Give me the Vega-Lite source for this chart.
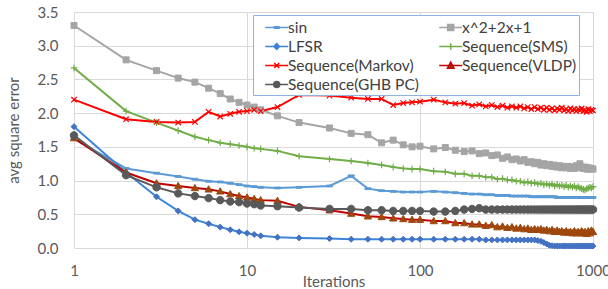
{
"$schema":"https://vega.github.io/schema/vega-lite/v6.json",
"width":519,"height":236,
"autosize":{"type":"none"},
"padding":{"left":74,"top":12,"right":15,"bottom":41},
"background":"white",
"config":{"view":{"stroke":null},"font":"Lato","axis":{"labelFont":"Lato","titleFont":"Lato","labelFontSize":15,"titleFontSize":15,"labelColor":"#595959","titleColor":"#595959","titleFontWeight":"normal","gridColor":"#D9D9D9","gridWidth":1,"domain":false,"ticks":false}},
"data":{"values":[
{"s":"sin","x":1,"y":1.62},{"s":"sin","x":2,"y":1.18},{"s":"sin","x":3,"y":1.11},{"s":"sin","x":4,"y":1.06},{"s":"sin","x":5,"y":1.02},{"s":"sin","x":6,"y":0.99},{"s":"sin","x":7,"y":0.98},{"s":"sin","x":8,"y":0.96},{"s":"sin","x":9,"y":0.94},{"s":"sin","x":10,"y":0.92},{"s":"sin","x":11,"y":0.91},{"s":"sin","x":12,"y":0.90},{"s":"sin","x":15,"y":0.89},{"s":"sin","x":20,"y":0.90},{"s":"sin","x":30,"y":0.92},{"s":"sin","x":40,"y":1.07},{"s":"sin","x":50,"y":0.88},{"s":"sin","x":60,"y":0.85},{"s":"sin","x":70,"y":0.84},{"s":"sin","x":80,"y":0.83},{"s":"sin","x":90,"y":0.83},{"s":"sin","x":100,"y":0.83},{"s":"sin","x":120,"y":0.84},{"s":"sin","x":140,"y":0.83},{"s":"sin","x":160,"y":0.82},{"s":"sin","x":180,"y":0.81},{"s":"sin","x":200,"y":0.80},{"s":"sin","x":220,"y":0.80},{"s":"sin","x":240,"y":0.79},{"s":"sin","x":260,"y":0.79},{"s":"sin","x":280,"y":0.78},{"s":"sin","x":300,"y":0.78},{"s":"sin","x":320,"y":0.78},{"s":"sin","x":340,"y":0.77},{"s":"sin","x":360,"y":0.77},{"s":"sin","x":380,"y":0.77},{"s":"sin","x":400,"y":0.77},{"s":"sin","x":420,"y":0.77},{"s":"sin","x":440,"y":0.76},{"s":"sin","x":460,"y":0.76},{"s":"sin","x":480,"y":0.76},{"s":"sin","x":500,"y":0.76},{"s":"sin","x":520,"y":0.76},{"s":"sin","x":540,"y":0.76},{"s":"sin","x":560,"y":0.76},{"s":"sin","x":580,"y":0.76},{"s":"sin","x":600,"y":0.76},{"s":"sin","x":620,"y":0.75},{"s":"sin","x":640,"y":0.75},{"s":"sin","x":660,"y":0.75},{"s":"sin","x":680,"y":0.75},{"s":"sin","x":700,"y":0.75},{"s":"sin","x":720,"y":0.75},{"s":"sin","x":740,"y":0.75},{"s":"sin","x":760,"y":0.75},{"s":"sin","x":780,"y":0.75},{"s":"sin","x":800,"y":0.75},{"s":"sin","x":820,"y":0.75},{"s":"sin","x":840,"y":0.75},{"s":"sin","x":860,"y":0.75},{"s":"sin","x":880,"y":0.75},{"s":"sin","x":900,"y":0.75},{"s":"sin","x":920,"y":0.75},{"s":"sin","x":940,"y":0.75},{"s":"sin","x":960,"y":0.75},{"s":"sin","x":980,"y":0.75},{"s":"sin","x":1000,"y":0.75},
{"s":"x^2+2x+1","x":1,"y":3.30},{"s":"x^2+2x+1","x":2,"y":2.79},{"s":"x^2+2x+1","x":3,"y":2.63},{"s":"x^2+2x+1","x":4,"y":2.52},{"s":"x^2+2x+1","x":5,"y":2.46},{"s":"x^2+2x+1","x":6,"y":2.37},{"s":"x^2+2x+1","x":7,"y":2.29},{"s":"x^2+2x+1","x":8,"y":2.21},{"s":"x^2+2x+1","x":9,"y":2.16},{"s":"x^2+2x+1","x":10,"y":2.12},{"s":"x^2+2x+1","x":11,"y":2.09},{"s":"x^2+2x+1","x":12,"y":2.05},{"s":"x^2+2x+1","x":15,"y":1.96},{"s":"x^2+2x+1","x":20,"y":1.86},{"s":"x^2+2x+1","x":30,"y":1.78},{"s":"x^2+2x+1","x":40,"y":1.70},{"s":"x^2+2x+1","x":50,"y":1.68},{"s":"x^2+2x+1","x":60,"y":1.56},{"s":"x^2+2x+1","x":70,"y":1.60},{"s":"x^2+2x+1","x":80,"y":1.53},{"s":"x^2+2x+1","x":90,"y":1.50},{"s":"x^2+2x+1","x":100,"y":1.51},{"s":"x^2+2x+1","x":120,"y":1.47},{"s":"x^2+2x+1","x":140,"y":1.49},{"s":"x^2+2x+1","x":160,"y":1.45},{"s":"x^2+2x+1","x":180,"y":1.43},{"s":"x^2+2x+1","x":200,"y":1.44},{"s":"x^2+2x+1","x":220,"y":1.40},{"s":"x^2+2x+1","x":240,"y":1.41},{"s":"x^2+2x+1","x":260,"y":1.37},{"s":"x^2+2x+1","x":280,"y":1.38},{"s":"x^2+2x+1","x":300,"y":1.33},{"s":"x^2+2x+1","x":320,"y":1.35},{"s":"x^2+2x+1","x":340,"y":1.31},{"s":"x^2+2x+1","x":360,"y":1.32},{"s":"x^2+2x+1","x":380,"y":1.29},{"s":"x^2+2x+1","x":400,"y":1.31},{"s":"x^2+2x+1","x":420,"y":1.27},{"s":"x^2+2x+1","x":440,"y":1.28},{"s":"x^2+2x+1","x":460,"y":1.25},{"s":"x^2+2x+1","x":480,"y":1.27},{"s":"x^2+2x+1","x":500,"y":1.23},{"s":"x^2+2x+1","x":520,"y":1.25},{"s":"x^2+2x+1","x":540,"y":1.22},{"s":"x^2+2x+1","x":560,"y":1.24},{"s":"x^2+2x+1","x":580,"y":1.21},{"s":"x^2+2x+1","x":600,"y":1.23},{"s":"x^2+2x+1","x":620,"y":1.20},{"s":"x^2+2x+1","x":640,"y":1.22},{"s":"x^2+2x+1","x":660,"y":1.19},{"s":"x^2+2x+1","x":680,"y":1.21},{"s":"x^2+2x+1","x":700,"y":1.19},{"s":"x^2+2x+1","x":720,"y":1.21},{"s":"x^2+2x+1","x":740,"y":1.18},{"s":"x^2+2x+1","x":760,"y":1.20},{"s":"x^2+2x+1","x":780,"y":1.18},{"s":"x^2+2x+1","x":800,"y":1.22},{"s":"x^2+2x+1","x":820,"y":1.19},{"s":"x^2+2x+1","x":840,"y":1.25},{"s":"x^2+2x+1","x":860,"y":1.20},{"s":"x^2+2x+1","x":880,"y":1.18},{"s":"x^2+2x+1","x":900,"y":1.20},{"s":"x^2+2x+1","x":920,"y":1.17},{"s":"x^2+2x+1","x":940,"y":1.19},{"s":"x^2+2x+1","x":960,"y":1.17},{"s":"x^2+2x+1","x":980,"y":1.18},{"s":"x^2+2x+1","x":1000,"y":1.17},
{"s":"LFSR","x":1,"y":1.80},{"s":"LFSR","x":2,"y":1.12},{"s":"LFSR","x":3,"y":0.76},{"s":"LFSR","x":4,"y":0.55},{"s":"LFSR","x":5,"y":0.42},{"s":"LFSR","x":6,"y":0.36},{"s":"LFSR","x":7,"y":0.31},{"s":"LFSR","x":8,"y":0.27},{"s":"LFSR","x":9,"y":0.24},{"s":"LFSR","x":10,"y":0.22},{"s":"LFSR","x":11,"y":0.20},{"s":"LFSR","x":12,"y":0.18},{"s":"LFSR","x":15,"y":0.16},{"s":"LFSR","x":20,"y":0.15},{"s":"LFSR","x":30,"y":0.14},{"s":"LFSR","x":40,"y":0.13},{"s":"LFSR","x":50,"y":0.13},{"s":"LFSR","x":60,"y":0.13},{"s":"LFSR","x":70,"y":0.13},{"s":"LFSR","x":80,"y":0.13},{"s":"LFSR","x":90,"y":0.13},{"s":"LFSR","x":100,"y":0.13},{"s":"LFSR","x":120,"y":0.13},{"s":"LFSR","x":140,"y":0.13},{"s":"LFSR","x":160,"y":0.13},{"s":"LFSR","x":180,"y":0.13},{"s":"LFSR","x":200,"y":0.13},{"s":"LFSR","x":220,"y":0.13},{"s":"LFSR","x":240,"y":0.12},{"s":"LFSR","x":260,"y":0.12},{"s":"LFSR","x":280,"y":0.12},{"s":"LFSR","x":300,"y":0.12},{"s":"LFSR","x":320,"y":0.12},{"s":"LFSR","x":340,"y":0.12},{"s":"LFSR","x":360,"y":0.12},{"s":"LFSR","x":380,"y":0.12},{"s":"LFSR","x":400,"y":0.12},{"s":"LFSR","x":420,"y":0.12},{"s":"LFSR","x":440,"y":0.12},{"s":"LFSR","x":460,"y":0.12},{"s":"LFSR","x":480,"y":0.11},{"s":"LFSR","x":500,"y":0.10},{"s":"LFSR","x":520,"y":0.08},{"s":"LFSR","x":540,"y":0.06},{"s":"LFSR","x":560,"y":0.04},{"s":"LFSR","x":580,"y":0.035},{"s":"LFSR","x":600,"y":0.03},{"s":"LFSR","x":620,"y":0.03},{"s":"LFSR","x":640,"y":0.03},{"s":"LFSR","x":660,"y":0.03},{"s":"LFSR","x":680,"y":0.03},{"s":"LFSR","x":700,"y":0.03},{"s":"LFSR","x":720,"y":0.03},{"s":"LFSR","x":740,"y":0.03},{"s":"LFSR","x":760,"y":0.03},{"s":"LFSR","x":780,"y":0.03},{"s":"LFSR","x":800,"y":0.03},{"s":"LFSR","x":820,"y":0.03},{"s":"LFSR","x":840,"y":0.03},{"s":"LFSR","x":860,"y":0.03},{"s":"LFSR","x":880,"y":0.03},{"s":"LFSR","x":900,"y":0.03},{"s":"LFSR","x":920,"y":0.03},{"s":"LFSR","x":940,"y":0.03},{"s":"LFSR","x":960,"y":0.03},{"s":"LFSR","x":980,"y":0.03},{"s":"LFSR","x":1000,"y":0.03},
{"s":"Sequence(SMS)","x":1,"y":2.67},{"s":"Sequence(SMS)","x":2,"y":2.03},{"s":"Sequence(SMS)","x":3,"y":1.86},{"s":"Sequence(SMS)","x":4,"y":1.74},{"s":"Sequence(SMS)","x":5,"y":1.65},{"s":"Sequence(SMS)","x":6,"y":1.60},{"s":"Sequence(SMS)","x":7,"y":1.56},{"s":"Sequence(SMS)","x":8,"y":1.54},{"s":"Sequence(SMS)","x":9,"y":1.52},{"s":"Sequence(SMS)","x":10,"y":1.50},{"s":"Sequence(SMS)","x":11,"y":1.48},{"s":"Sequence(SMS)","x":12,"y":1.47},{"s":"Sequence(SMS)","x":15,"y":1.44},{"s":"Sequence(SMS)","x":20,"y":1.36},{"s":"Sequence(SMS)","x":30,"y":1.32},{"s":"Sequence(SMS)","x":40,"y":1.29},{"s":"Sequence(SMS)","x":50,"y":1.26},{"s":"Sequence(SMS)","x":60,"y":1.23},{"s":"Sequence(SMS)","x":70,"y":1.20},{"s":"Sequence(SMS)","x":80,"y":1.18},{"s":"Sequence(SMS)","x":90,"y":1.17},{"s":"Sequence(SMS)","x":100,"y":1.17},{"s":"Sequence(SMS)","x":120,"y":1.14},{"s":"Sequence(SMS)","x":140,"y":1.13},{"s":"Sequence(SMS)","x":160,"y":1.10},{"s":"Sequence(SMS)","x":180,"y":1.10},{"s":"Sequence(SMS)","x":200,"y":1.07},{"s":"Sequence(SMS)","x":220,"y":1.07},{"s":"Sequence(SMS)","x":240,"y":1.05},{"s":"Sequence(SMS)","x":260,"y":1.05},{"s":"Sequence(SMS)","x":280,"y":1.02},{"s":"Sequence(SMS)","x":300,"y":1.03},{"s":"Sequence(SMS)","x":320,"y":1.01},{"s":"Sequence(SMS)","x":340,"y":1.01},{"s":"Sequence(SMS)","x":360,"y":0.99},{"s":"Sequence(SMS)","x":380,"y":0.99},{"s":"Sequence(SMS)","x":400,"y":0.97},{"s":"Sequence(SMS)","x":420,"y":0.98},{"s":"Sequence(SMS)","x":440,"y":0.96},{"s":"Sequence(SMS)","x":460,"y":0.97},{"s":"Sequence(SMS)","x":480,"y":0.95},{"s":"Sequence(SMS)","x":500,"y":0.96},{"s":"Sequence(SMS)","x":520,"y":0.94},{"s":"Sequence(SMS)","x":540,"y":0.95},{"s":"Sequence(SMS)","x":560,"y":0.93},{"s":"Sequence(SMS)","x":580,"y":0.95},{"s":"Sequence(SMS)","x":600,"y":0.92},{"s":"Sequence(SMS)","x":620,"y":0.94},{"s":"Sequence(SMS)","x":640,"y":0.92},{"s":"Sequence(SMS)","x":660,"y":0.93},{"s":"Sequence(SMS)","x":680,"y":0.91},{"s":"Sequence(SMS)","x":700,"y":0.93},{"s":"Sequence(SMS)","x":720,"y":0.90},{"s":"Sequence(SMS)","x":740,"y":0.92},{"s":"Sequence(SMS)","x":760,"y":0.90},{"s":"Sequence(SMS)","x":780,"y":0.92},{"s":"Sequence(SMS)","x":800,"y":0.89},{"s":"Sequence(SMS)","x":820,"y":0.91},{"s":"Sequence(SMS)","x":840,"y":0.89},{"s":"Sequence(SMS)","x":860,"y":0.88},{"s":"Sequence(SMS)","x":880,"y":0.87},{"s":"Sequence(SMS)","x":900,"y":0.86},{"s":"Sequence(SMS)","x":920,"y":0.88},{"s":"Sequence(SMS)","x":940,"y":0.89},{"s":"Sequence(SMS)","x":960,"y":0.90},{"s":"Sequence(SMS)","x":980,"y":0.89},{"s":"Sequence(SMS)","x":1000,"y":0.91},
{"s":"Sequence(Markov)","x":1,"y":2.20},{"s":"Sequence(Markov)","x":2,"y":1.91},{"s":"Sequence(Markov)","x":3,"y":1.87},{"s":"Sequence(Markov)","x":4,"y":1.86},{"s":"Sequence(Markov)","x":5,"y":1.87},{"s":"Sequence(Markov)","x":6,"y":2.02},{"s":"Sequence(Markov)","x":7,"y":1.95},{"s":"Sequence(Markov)","x":8,"y":1.99},{"s":"Sequence(Markov)","x":9,"y":2.02},{"s":"Sequence(Markov)","x":10,"y":2.03},{"s":"Sequence(Markov)","x":11,"y":2.05},{"s":"Sequence(Markov)","x":12,"y":2.03},{"s":"Sequence(Markov)","x":15,"y":2.09},{"s":"Sequence(Markov)","x":20,"y":2.27},{"s":"Sequence(Markov)","x":30,"y":2.26},{"s":"Sequence(Markov)","x":40,"y":2.23},{"s":"Sequence(Markov)","x":50,"y":2.21},{"s":"Sequence(Markov)","x":60,"y":2.21},{"s":"Sequence(Markov)","x":70,"y":2.12},{"s":"Sequence(Markov)","x":80,"y":2.15},{"s":"Sequence(Markov)","x":90,"y":2.16},{"s":"Sequence(Markov)","x":100,"y":2.17},{"s":"Sequence(Markov)","x":120,"y":2.20},{"s":"Sequence(Markov)","x":140,"y":2.16},{"s":"Sequence(Markov)","x":160,"y":2.14},{"s":"Sequence(Markov)","x":180,"y":2.15},{"s":"Sequence(Markov)","x":200,"y":2.11},{"s":"Sequence(Markov)","x":220,"y":2.13},{"s":"Sequence(Markov)","x":240,"y":2.10},{"s":"Sequence(Markov)","x":260,"y":2.12},{"s":"Sequence(Markov)","x":280,"y":2.09},{"s":"Sequence(Markov)","x":300,"y":2.11},{"s":"Sequence(Markov)","x":320,"y":2.08},{"s":"Sequence(Markov)","x":340,"y":2.10},{"s":"Sequence(Markov)","x":360,"y":2.08},{"s":"Sequence(Markov)","x":380,"y":2.10},{"s":"Sequence(Markov)","x":400,"y":2.07},{"s":"Sequence(Markov)","x":420,"y":2.09},{"s":"Sequence(Markov)","x":440,"y":2.06},{"s":"Sequence(Markov)","x":460,"y":2.09},{"s":"Sequence(Markov)","x":480,"y":2.06},{"s":"Sequence(Markov)","x":500,"y":2.08},{"s":"Sequence(Markov)","x":520,"y":2.05},{"s":"Sequence(Markov)","x":540,"y":2.08},{"s":"Sequence(Markov)","x":560,"y":2.05},{"s":"Sequence(Markov)","x":580,"y":2.07},{"s":"Sequence(Markov)","x":600,"y":2.04},{"s":"Sequence(Markov)","x":620,"y":2.07},{"s":"Sequence(Markov)","x":640,"y":2.05},{"s":"Sequence(Markov)","x":660,"y":2.08},{"s":"Sequence(Markov)","x":680,"y":2.04},{"s":"Sequence(Markov)","x":700,"y":2.06},{"s":"Sequence(Markov)","x":720,"y":2.03},{"s":"Sequence(Markov)","x":740,"y":2.07},{"s":"Sequence(Markov)","x":760,"y":2.04},{"s":"Sequence(Markov)","x":780,"y":2.06},{"s":"Sequence(Markov)","x":800,"y":2.03},{"s":"Sequence(Markov)","x":820,"y":2.06},{"s":"Sequence(Markov)","x":840,"y":2.04},{"s":"Sequence(Markov)","x":860,"y":2.07},{"s":"Sequence(Markov)","x":880,"y":2.03},{"s":"Sequence(Markov)","x":900,"y":2.05},{"s":"Sequence(Markov)","x":920,"y":2.02},{"s":"Sequence(Markov)","x":940,"y":2.06},{"s":"Sequence(Markov)","x":960,"y":2.03},{"s":"Sequence(Markov)","x":980,"y":2.05},{"s":"Sequence(Markov)","x":1000,"y":2.04},
{"s":"Sequence(VLDP)","x":1,"y":1.63},{"s":"Sequence(VLDP)","x":2,"y":1.12},{"s":"Sequence(VLDP)","x":3,"y":0.96},{"s":"Sequence(VLDP)","x":4,"y":0.92},{"s":"Sequence(VLDP)","x":5,"y":0.89},{"s":"Sequence(VLDP)","x":6,"y":0.87},{"s":"Sequence(VLDP)","x":7,"y":0.84},{"s":"Sequence(VLDP)","x":8,"y":0.80},{"s":"Sequence(VLDP)","x":9,"y":0.77},{"s":"Sequence(VLDP)","x":10,"y":0.75},{"s":"Sequence(VLDP)","x":11,"y":0.73},{"s":"Sequence(VLDP)","x":12,"y":0.71},{"s":"Sequence(VLDP)","x":15,"y":0.70},{"s":"Sequence(VLDP)","x":20,"y":0.61},{"s":"Sequence(VLDP)","x":30,"y":0.56},{"s":"Sequence(VLDP)","x":40,"y":0.51},{"s":"Sequence(VLDP)","x":50,"y":0.47},{"s":"Sequence(VLDP)","x":60,"y":0.46},{"s":"Sequence(VLDP)","x":70,"y":0.44},{"s":"Sequence(VLDP)","x":80,"y":0.43},{"s":"Sequence(VLDP)","x":90,"y":0.42},{"s":"Sequence(VLDP)","x":100,"y":0.42},{"s":"Sequence(VLDP)","x":120,"y":0.40},{"s":"Sequence(VLDP)","x":140,"y":0.40},{"s":"Sequence(VLDP)","x":160,"y":0.37},{"s":"Sequence(VLDP)","x":180,"y":0.37},{"s":"Sequence(VLDP)","x":200,"y":0.35},{"s":"Sequence(VLDP)","x":220,"y":0.35},{"s":"Sequence(VLDP)","x":240,"y":0.33},{"s":"Sequence(VLDP)","x":260,"y":0.34},{"s":"Sequence(VLDP)","x":280,"y":0.31},{"s":"Sequence(VLDP)","x":300,"y":0.32},{"s":"Sequence(VLDP)","x":320,"y":0.30},{"s":"Sequence(VLDP)","x":340,"y":0.31},{"s":"Sequence(VLDP)","x":360,"y":0.29},{"s":"Sequence(VLDP)","x":380,"y":0.30},{"s":"Sequence(VLDP)","x":400,"y":0.28},{"s":"Sequence(VLDP)","x":420,"y":0.29},{"s":"Sequence(VLDP)","x":440,"y":0.27},{"s":"Sequence(VLDP)","x":460,"y":0.28},{"s":"Sequence(VLDP)","x":480,"y":0.27},{"s":"Sequence(VLDP)","x":500,"y":0.28},{"s":"Sequence(VLDP)","x":520,"y":0.26},{"s":"Sequence(VLDP)","x":540,"y":0.27},{"s":"Sequence(VLDP)","x":560,"y":0.25},{"s":"Sequence(VLDP)","x":580,"y":0.27},{"s":"Sequence(VLDP)","x":600,"y":0.24},{"s":"Sequence(VLDP)","x":620,"y":0.26},{"s":"Sequence(VLDP)","x":640,"y":0.24},{"s":"Sequence(VLDP)","x":660,"y":0.25},{"s":"Sequence(VLDP)","x":680,"y":0.23},{"s":"Sequence(VLDP)","x":700,"y":0.25},{"s":"Sequence(VLDP)","x":720,"y":0.23},{"s":"Sequence(VLDP)","x":740,"y":0.24},{"s":"Sequence(VLDP)","x":760,"y":0.22},{"s":"Sequence(VLDP)","x":780,"y":0.25},{"s":"Sequence(VLDP)","x":800,"y":0.22},{"s":"Sequence(VLDP)","x":820,"y":0.24},{"s":"Sequence(VLDP)","x":840,"y":0.22},{"s":"Sequence(VLDP)","x":860,"y":0.25},{"s":"Sequence(VLDP)","x":880,"y":0.22},{"s":"Sequence(VLDP)","x":900,"y":0.24},{"s":"Sequence(VLDP)","x":920,"y":0.21},{"s":"Sequence(VLDP)","x":940,"y":0.25},{"s":"Sequence(VLDP)","x":960,"y":0.22},{"s":"Sequence(VLDP)","x":980,"y":0.26},{"s":"Sequence(VLDP)","x":1000,"y":0.24},
{"s":"Sequence(GHB PC)","x":1,"y":1.67},{"s":"Sequence(GHB PC)","x":2,"y":1.08},{"s":"Sequence(GHB PC)","x":3,"y":0.90},{"s":"Sequence(GHB PC)","x":4,"y":0.81},{"s":"Sequence(GHB PC)","x":5,"y":0.77},{"s":"Sequence(GHB PC)","x":6,"y":0.74},{"s":"Sequence(GHB PC)","x":7,"y":0.71},{"s":"Sequence(GHB PC)","x":8,"y":0.69},{"s":"Sequence(GHB PC)","x":9,"y":0.68},{"s":"Sequence(GHB PC)","x":10,"y":0.66},{"s":"Sequence(GHB PC)","x":11,"y":0.65},{"s":"Sequence(GHB PC)","x":12,"y":0.63},{"s":"Sequence(GHB PC)","x":15,"y":0.62},{"s":"Sequence(GHB PC)","x":20,"y":0.60},{"s":"Sequence(GHB PC)","x":30,"y":0.58},{"s":"Sequence(GHB PC)","x":40,"y":0.58},{"s":"Sequence(GHB PC)","x":50,"y":0.56},{"s":"Sequence(GHB PC)","x":60,"y":0.56},{"s":"Sequence(GHB PC)","x":70,"y":0.55},{"s":"Sequence(GHB PC)","x":80,"y":0.55},{"s":"Sequence(GHB PC)","x":90,"y":0.55},{"s":"Sequence(GHB PC)","x":100,"y":0.55},{"s":"Sequence(GHB PC)","x":120,"y":0.54},{"s":"Sequence(GHB PC)","x":140,"y":0.54},{"s":"Sequence(GHB PC)","x":160,"y":0.55},{"s":"Sequence(GHB PC)","x":180,"y":0.57},{"s":"Sequence(GHB PC)","x":200,"y":0.58},{"s":"Sequence(GHB PC)","x":220,"y":0.59},{"s":"Sequence(GHB PC)","x":240,"y":0.57},{"s":"Sequence(GHB PC)","x":260,"y":0.57},{"s":"Sequence(GHB PC)","x":280,"y":0.57},{"s":"Sequence(GHB PC)","x":300,"y":0.57},{"s":"Sequence(GHB PC)","x":320,"y":0.57},{"s":"Sequence(GHB PC)","x":340,"y":0.57},{"s":"Sequence(GHB PC)","x":360,"y":0.57},{"s":"Sequence(GHB PC)","x":380,"y":0.57},{"s":"Sequence(GHB PC)","x":400,"y":0.57},{"s":"Sequence(GHB PC)","x":420,"y":0.57},{"s":"Sequence(GHB PC)","x":440,"y":0.57},{"s":"Sequence(GHB PC)","x":460,"y":0.57},{"s":"Sequence(GHB PC)","x":480,"y":0.57},{"s":"Sequence(GHB PC)","x":500,"y":0.57},{"s":"Sequence(GHB PC)","x":520,"y":0.57},{"s":"Sequence(GHB PC)","x":540,"y":0.57},{"s":"Sequence(GHB PC)","x":560,"y":0.57},{"s":"Sequence(GHB PC)","x":580,"y":0.57},{"s":"Sequence(GHB PC)","x":600,"y":0.57},{"s":"Sequence(GHB PC)","x":620,"y":0.57},{"s":"Sequence(GHB PC)","x":640,"y":0.57},{"s":"Sequence(GHB PC)","x":660,"y":0.57},{"s":"Sequence(GHB PC)","x":680,"y":0.57},{"s":"Sequence(GHB PC)","x":700,"y":0.57},{"s":"Sequence(GHB PC)","x":720,"y":0.57},{"s":"Sequence(GHB PC)","x":740,"y":0.57},{"s":"Sequence(GHB PC)","x":760,"y":0.57},{"s":"Sequence(GHB PC)","x":780,"y":0.57},{"s":"Sequence(GHB PC)","x":800,"y":0.57},{"s":"Sequence(GHB PC)","x":820,"y":0.57},{"s":"Sequence(GHB PC)","x":840,"y":0.57},{"s":"Sequence(GHB PC)","x":860,"y":0.57},{"s":"Sequence(GHB PC)","x":880,"y":0.57},{"s":"Sequence(GHB PC)","x":900,"y":0.57},{"s":"Sequence(GHB PC)","x":920,"y":0.57},{"s":"Sequence(GHB PC)","x":940,"y":0.57},{"s":"Sequence(GHB PC)","x":960,"y":0.57},{"s":"Sequence(GHB PC)","x":980,"y":0.57},{"s":"Sequence(GHB PC)","x":1000,"y":0.57}
]},
"encoding":{
"x":{"field":"x","type":"quantitative","title":"Iterations","scale":{"type":"log","domain":[1,1000]},"axis":{"values":[1,10,100,1000],"format":"d","grid":true,"labelPadding":15,"titleY":38,"titleBaseline":"alphabetic","labelFlush":false}},
"y":{"field":"y","type":"quantitative","title":"avg square error","scale":{"domain":[0,3.5]},"axis":{"values":[0,0.5,1,1.5,2,2.5,3,3.5],"format":".1f","grid":true,"labelPadding":16,"titlePadding":16}}
},
"layer":[
{"mark":{"type":"line","strokeWidth":2},
"encoding":{"color":{"field":"s","type":"nominal",
"scale":{"domain":["sin","x^2+2x+1","LFSR","Sequence(SMS)","Sequence(Markov)","Sequence(VLDP)","Sequence(GHB PC)"],"range":["#5B9BD5","#A5A5A5","#3D85D8","#70AD47","#FF0000","#C00000","#595959"]},
"legend":{"title":null,"orient":"none","legendX":179,"legendY":3,"columns":2,"direction":"horizontal","gridAlign":"all","symbolSize":361,"symbolStrokeWidth":1.5,"labelFont":"Lato","labelFontSize":15.5,"labelColor":"#404040","labelOffset":12,"rowPadding":0,"columnPadding":10,"padding":2,"strokeColor":"#8DB3E2","fillColor":"white","labelLimit":300,
"encode":{"symbols":{"update":{
"shape":{"signal":"['M-0.03,0H2.39M0.93,-0.09H1.43V0.09H0.93Z','M-0.03,0H2.39M0.86,-0.32H1.5V0.32H0.86Z','M-0.03,0H2.39M0.88,0L1.18,-0.3L1.48,0L1.18,0.3Z','M-0.03,0H2.39M1.18,-0.35V0.35','M-0.03,0H2.39M0.92,-0.26L1.44,0.26M1.44,-0.26L0.92,0.26','M-0.03,0H2.39M1.18,-0.36L1.52,0.28H0.84Z','M-0.03,0H2.39M1.5,0A0.32,0.32,0,1,1,0.86,0A0.32,0.32,0,1,1,1.5,0Z'][indexof(['sin','x^2+2x+1','LFSR','Sequence(SMS)','Sequence(Markov)','Sequence(VLDP)','Sequence(GHB PC)'],datum.value)]"},
"fill":{"signal":"['#5B9BD5','#A5A5A5','#4472C4','#70AD47','#FF0000','#9E480E','#595959'][indexof(['sin','x^2+2x+1','LFSR','Sequence(SMS)','Sequence(Markov)','Sequence(VLDP)','Sequence(GHB PC)'],datum.value)]"},
"strokeWidth":{"value":1.5},
"opacity":{"value":1}
}}}}}}},
{"transform":[{"filter":{"field":"s","equal":"sin"}}],"mark":{"type":"point","filled":true,"size":36,"shape":"M-1,-0.3H1V0.3H-1Z","color":"#5B9BD5","stroke":"#5B9BD5","strokeWidth":1,"opacity":1},"encoding":{}},
{"transform":[{"filter":{"field":"s","equal":"x^2+2x+1"}}],"mark":{"type":"point","filled":true,"size":36,"shape":"square","color":"#A5A5A5","stroke":"#A5A5A5","strokeWidth":1,"opacity":1},"encoding":{}},
{"transform":[{"filter":{"field":"s","equal":"LFSR"}}],"mark":{"type":"point","filled":true,"size":36,"shape":"M-1,0L0,-1L1,0L0,1Z","color":"#4472C4","stroke":"#4472C4","strokeWidth":1,"opacity":1},"encoding":{}},
{"transform":[{"filter":{"field":"s","equal":"Sequence(SMS)"}}],"mark":{"type":"point","filled":true,"size":36,"shape":"M-1.1,0H1.1M0,-1.1V1.1","color":"#70AD47","stroke":"#70AD47","strokeWidth":1.2,"opacity":1},"encoding":{}},
{"transform":[{"filter":{"field":"s","equal":"Sequence(Markov)"}}],"mark":{"type":"point","filled":true,"size":36,"shape":"M-0.9,-0.9L0.9,0.9M0.9,-0.9L-0.9,0.9","color":"#FF0000","stroke":"#FF0000","strokeWidth":1.2,"opacity":1},"encoding":{}},
{"transform":[{"filter":{"field":"s","equal":"Sequence(VLDP)"}}],"mark":{"type":"point","filled":true,"size":36,"shape":"M0,-1.2L1.2,0.9H-1.2Z","color":"#9E480E","stroke":"#9E480E","strokeWidth":1,"opacity":1},"encoding":{}},
{"transform":[{"filter":{"field":"s","equal":"Sequence(GHB PC)"}}],"mark":{"type":"point","filled":true,"size":42,"shape":"M1.15,0A1.15,1.15,0,1,1,-1.15,0A1.15,1.15,0,1,1,1.15,0Z","color":"#595959","stroke":"#595959","strokeWidth":1,"opacity":1},"encoding":{}}
]
}
